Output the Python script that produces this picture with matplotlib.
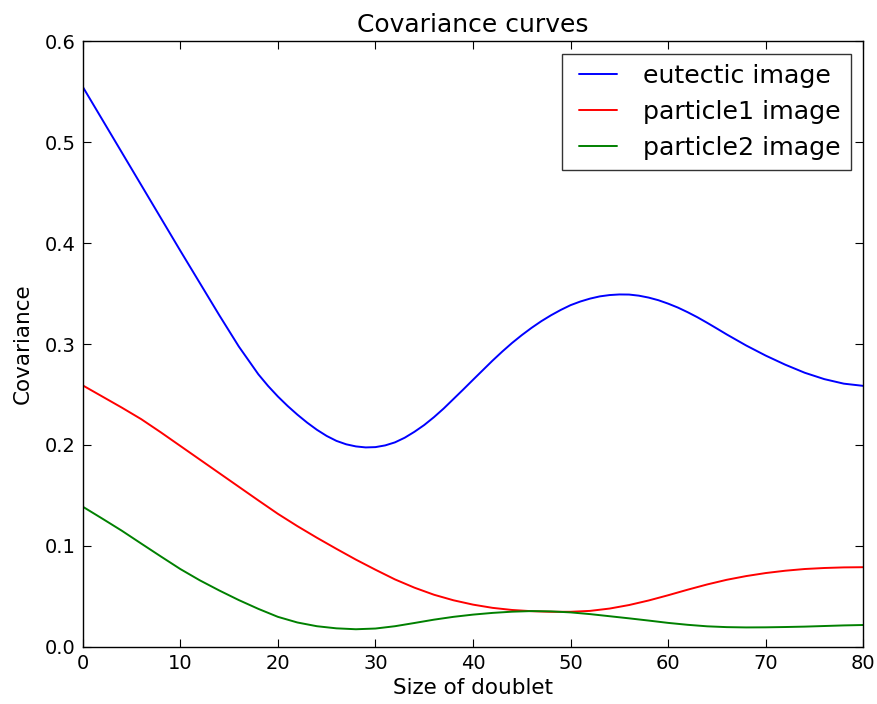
import matplotlib
matplotlib.use("Agg")
import matplotlib.pyplot as plt
from matplotlib.legend_handler import HandlerLine2D

# Eutectic image (finer sampling where the curve bends strongly)
x_eutectic = [0, 2, 4, 6, 8, 10, 12, 14, 16, 18,
              19, 20, 21, 22, 23, 24, 25, 26, 27, 28, 29, 30, 31, 32, 33, 34, 35, 36,
              37, 38, 39, 40, 41, 42, 43, 44, 45, 46, 47, 48, 49, 50, 51, 52, 53, 54,
              55, 56, 57, 58, 59, 60, 61, 62, 63, 64, 65, 66,
              68, 70, 72, 74, 76, 78, 80]
eutectic = [0.555, 0.5225, 0.490, 0.4575, 0.425, 0.3925, 0.3605, 0.3285, 0.2975, 0.2700,
            0.2584, 0.2480, 0.2386, 0.2300, 0.2221, 0.2150, 0.2089, 0.2040, 0.2006, 0.1985,
            0.1975, 0.1978, 0.1995, 0.2025, 0.2071, 0.2130, 0.2197, 0.2275,
            0.2361, 0.2455, 0.2549, 0.2645, 0.2740, 0.2835, 0.2925, 0.3010, 0.3088, 0.3160,
            0.3226, 0.3285, 0.3338, 0.3385, 0.3421, 0.3450, 0.3472, 0.3485,
            0.3491, 0.3490, 0.3479, 0.3460, 0.3434, 0.3400, 0.3361, 0.3315, 0.3265, 0.3210,
            0.3153, 0.3095,
            0.2985, 0.2885, 0.2795, 0.2715, 0.2652, 0.2607, 0.2585]

x_particles = [0, 2, 4, 6, 8, 10, 12, 14, 16, 18, 20, 22, 24, 26, 28, 30, 32, 34, 36, 38,
               40, 42, 44, 46, 48, 50, 52, 54, 56, 58, 60, 62, 64, 66, 68, 70, 72, 74, 76, 78, 80]

particle1 = [0.259, 0.248, 0.237, 0.2255, 0.2125, 0.199, 0.1855, 0.172, 0.1585, 0.145,
             0.1317, 0.1195, 0.108, 0.097, 0.0863, 0.0763, 0.0667, 0.0585, 0.0515, 0.0460,
             0.0417, 0.0385, 0.0364, 0.0352, 0.0346, 0.0346, 0.0355, 0.0378, 0.0413, 0.0458,
             0.0510, 0.0565, 0.0617, 0.0663, 0.0700, 0.0730, 0.0753, 0.0770, 0.0780, 0.0786, 0.0788]

particle2 = [0.1388, 0.127, 0.115, 0.1022, 0.0895, 0.077, 0.0658, 0.0557, 0.0462, 0.0375,
             0.0296, 0.0240, 0.0203, 0.0182, 0.0173, 0.0180, 0.0203, 0.0235, 0.0268, 0.0296,
             0.0318, 0.0335, 0.0347, 0.0353, 0.0350, 0.0340, 0.0323, 0.0302, 0.0281, 0.0259,
             0.0236, 0.0217, 0.0202, 0.0194, 0.0191, 0.0192, 0.0195, 0.0199, 0.0205, 0.0211, 0.0215]

labels = ["eutectic image", "particle1 image", "particle2 image"]
colors = ["#0000ff", "#ff0000", "#008000"]

x_ticks = [0, 10, 20, 30, 40, 50, 60, 70, 80]
y_ticks = [0.0, 0.1, 0.2, 0.3, 0.4, 0.5, 0.6]

plt.rcParams['font.family'] = ['DejaVu Sans']

fig = plt.figure(figsize=(8.78, 7.04), dpi=100, facecolor='white')
ax = fig.add_axes([82.7 / 878, 1 - 646.7 / 704, (863.3 - 82.7) / 878, (646.7 - 41.3) / 704])

series = [(x_eutectic, eutectic), (x_particles, particle1), (x_particles, particle2)]
lines = []
for (xs, ys), lab, col in zip(series, labels, colors):
    ln, = ax.plot(xs, ys, color=col, linewidth=1.4, label=lab,
                  solid_joinstyle='round', solid_capstyle='round')
    lines.append(ln)

ax.set_xlim(0, 80)
ax.set_ylim(0, 0.6)
ax.set_xticks(x_ticks)
ax.set_yticks(y_ticks)
ax.set_yticklabels([f"{v:.1f}" for v in y_ticks])
ax.tick_params(direction='in', length=6, width=0.8, top=True, right=True,
               labelsize=14, pad=5, colors='black')
for s in ax.spines.values():
    s.set_linewidth(1.0)
    s.set_color('black')

ax.set_title("Covariance curves", fontsize=18, pad=7)
ax.set_xlabel("Size of doublet", fontsize=15.5, labelpad=4)
ax.set_ylabel("Covariance", fontsize=15.5, labelpad=9)

handler = HandlerLine2D(xpad=0.28)
leg = ax.legend(loc='upper right', fontsize=18.2, frameon=True, fancybox=False,
                handlelength=1.76, handletextpad=1.04, labelspacing=0.47,
                borderpad=0.4, borderaxespad=0.5,
                handler_map={ln: handler for ln in lines})
leg.get_frame().set_edgecolor('black')
leg.get_frame().set_linewidth(1.0)

fig.savefig("out.png", dpi=100, facecolor='white')
